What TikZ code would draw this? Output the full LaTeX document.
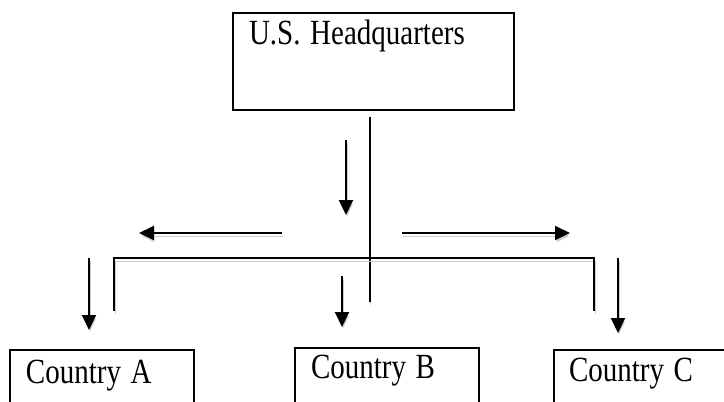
\documentclass[tikz,border=0pt]{standalone}
\usepackage{fontspec}
\setmainfont{Liberation Serif}
\usetikzlibrary{arrows.meta, calc}

\newcommand{\tall}[1]{\scalebox{1}[1.22]{#1}}

\begin{document}
\begin{tikzpicture}[x=1pt, y=-1pt, font=\fontsize{29}{34}\selectfont]
    \tikzstyle{office} = [rectangle, draw=black, line width=2pt, anchor=north west, align=left, inner xsep=16pt, inner ysep=0pt]
    \tikzstyle{arrow} = [line width=2pt, -{Triangle[width=14pt,length=15pt]}, preaction={draw=black!20, transform canvas={shift={(1pt,-3pt)}}}]
    \tikzstyle{line} = [line width=2pt, preaction={draw=black!20, transform canvas={shift={(1pt,-3pt)}}}]
    \useasboundingbox (0,0) rectangle (724,402);
    \clip (0,0) rectangle (724,402);
    % Nodes
    \node (hq) [office, text width=249pt, text height=31pt, text depth=66pt] at (232,12) {\tall{U.S. Headquarters}};
    \node (ctya) [office, text width=152pt, text height=33pt, text depth=80pt] at (9,349) {\tall{Country A}};
    \node (ctyb) [office, text width=152pt, text height=30pt, text depth=80pt] at (294,347) {\tall{Country B}};
    \node (ctyc) [office, inner xsep=15pt, text width=170pt, text height=31pt, text depth=80pt] at (553,349) {\tall{Country C}};
    % Points of the lines
    \coordinate (trunktop) at ($(hq.south)+(-4,6)$);
    \coordinate (trunkend) at (368,302);
    \coordinate (barleft) at (114,258);
    \coordinate (barright) at (594,258);
    \coordinate (dropleft) at (114,311);
    \coordinate (dropright) at (594,311);
    \coordinate (downtop) at (346,140);
    \coordinate (downtip) at (346,215);
    \coordinate (westtail) at (282,233);
    \coordinate (westtip) at (139,233);
    \coordinate (easttail) at (402,233);
    \coordinate (easttip) at (570,233);
    \coordinate (atail) at (89,258);
    \coordinate (btail) at (342,276);
    \coordinate (ctail) at (618,258);
    % Lines
    \draw [line] (trunktop |- trunktop) -- (trunktop |- trunkend);
    \draw [line] (dropleft) -- (barleft) -- (barright) -- (dropright);
    % Arrows
    \draw [arrow] (downtop) -- (downtip);
    \draw [arrow] (westtail) -- (westtip);
    \draw [arrow] (easttail) -- (easttip);
    \draw [arrow] (atail) -- ($(ctya.north west)+(80,-19)$);
    \draw [arrow] (btail) -- ($(ctyb.north west)+(48,-20)$);
    \draw [arrow] (ctail) -- ($(ctyc.north west)+(65,-16)$);
\end{tikzpicture}
\end{document}
